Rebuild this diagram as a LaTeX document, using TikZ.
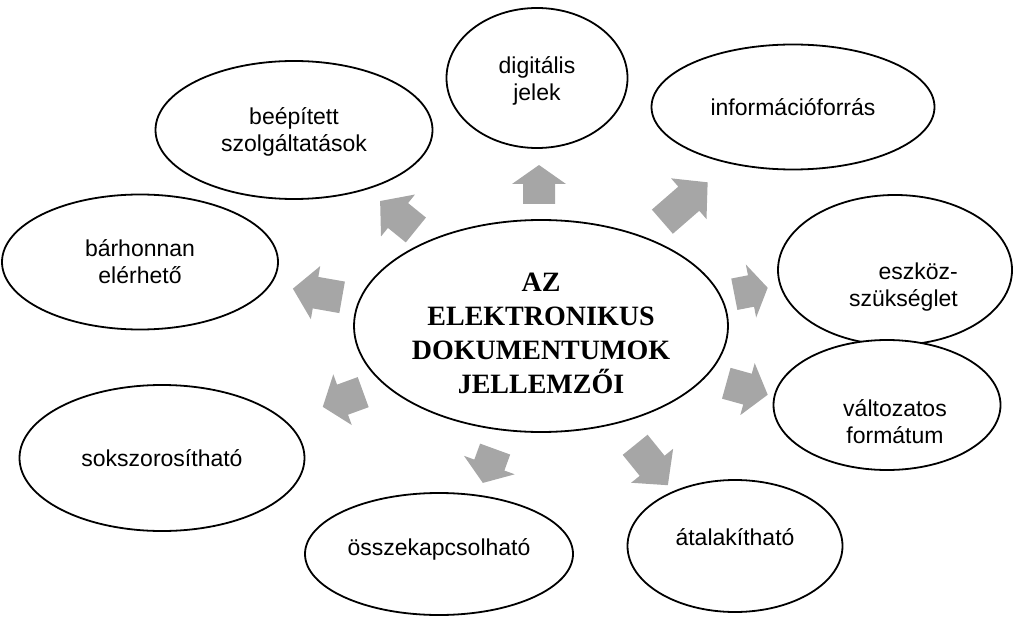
\documentclass[tikz,border=0pt]{standalone}
\usepackage{fontspec}
\setmainfont{Liberation Sans}
\newfontfamily\titlefont{Liberation Serif}
\usetikzlibrary{shapes.geometric}
\definecolor{arrowgray}{HTML}{A6A6A6}
\tikzset{
  bubble/.style={draw=black, line width=1.8pt, ellipse, fill=white, inner sep=0pt},
  caption/.style={align=center, inner sep=0pt, font=\fontsize{23}{27}\selectfont},
  hubcaption/.style={caption, font=\titlefont\bfseries\fontsize{28}{34}\selectfont},
  % grey block arrow along the local x axis: total length #1, head length #2
  pics/blockarrow/.style args={#1/#2}{code={
    \fill[arrowgray] (-#1/2,-16) -- (#1/2-#2,-16) -- (#1/2-#2,-27) -- (#1/2,0)
      -- (#1/2-#2,27) -- (#1/2-#2,16) -- (-#1/2,16) -- cycle;
  }},
}
\begin{document}
\begin{tikzpicture}[x=1pt,y=-1pt]
\useasboundingbox (0,0) rectangle (1014,628);

% central topic
\node[bubble, minimum width=374pt, minimum height=212pt] (hub) at (541,326) {};
\node[hubcaption] (hub-text) at ([shift={(0,7)}]hub.center)
  {AZ\\ELEKTRONIKUS\\DOKUMENTUMOK\\JELLEMZŐI};

% surrounding properties
\node[bubble, minimum width=181pt, minimum height=140pt] (digital) at (537,78) {};
\node[bubble, minimum width=283pt, minimum height=125pt] (source) at (793,107) {};
\node[bubble, minimum width=234pt, minimum height=150pt] (device) at (895,270) {};
\node[bubble, minimum width=227pt, minimum height=130pt] (format) at (887,405) {};
\node[bubble, minimum width=215pt, minimum height=132pt] (convert) at (735,546) {};
\node[bubble, minimum width=268pt, minimum height=122pt] (link) at (439,554) {};
\node[bubble, minimum width=285pt, minimum height=146pt] (copy) at (162,458) {};
\node[bubble, minimum width=276pt, minimum height=135pt] (anywhere) at (140,262) {};
\node[bubble, minimum width=277pt, minimum height=138pt] (services) at (294,130) {};

\node[caption] (digital-text)  at ([shift={(0,3)}]digital.center)   {digitális\\jelek};
\node[caption] (source-text)   at (source.center)                    {információforrás};
\node[caption, align=right, anchor=east] (device-text)
  at ([shift={(63,17)}]device.center) {eszköz-\\szükséglet};
\node[caption] (format-text)   at ([shift={(8,17)}]format.center)    {változatos\\formátum};
\node[caption] (convert-text)  at ([shift={(0,-9)}]convert.center)   {átalakítható};
\node[caption] (link-text)     at ([shift={(0,-5)}]link.center)      {összekapcsolható};
\node[caption] (copy-text)     at (copy.center)                      {sokszorosítható};
\node[caption] (anywhere-text) at (anywhere.center)                  {bárhonnan\\elérhető};
\node[caption] (services-text) at ([shift={(0,2)}]services.center)   {beépített\\szolgáltatások};

% block arrows pointing outwards from the centre
\pic[rotate=90]    (a1) at (539,184.5) {blockarrow={39/19}};
\pic[rotate=41]    (a2) at (685,202)   {blockarrow={60/25}};
\pic[rotate=11]    (a3) at (751,291)   {blockarrow={34/17}};
\pic[rotate=-15.5] (a4) at (747,389)   {blockarrow={43/21}};
\pic[rotate=-51]   (a5) at (651.5,465) {blockarrow={52/25}};
\pic[rotate=-110]  (a6) at (489,466)   {blockarrow={36/19}};
\pic[rotate=200]   (a7) at (343,399.5) {blockarrow={43/21}};
\pic[rotate=170]   (a8) at (317.5,293) {blockarrow={50/23}};
\pic[rotate=141]   (a9) at (398,215.5) {blockarrow={46/23}};
\end{tikzpicture}
\end{document}
